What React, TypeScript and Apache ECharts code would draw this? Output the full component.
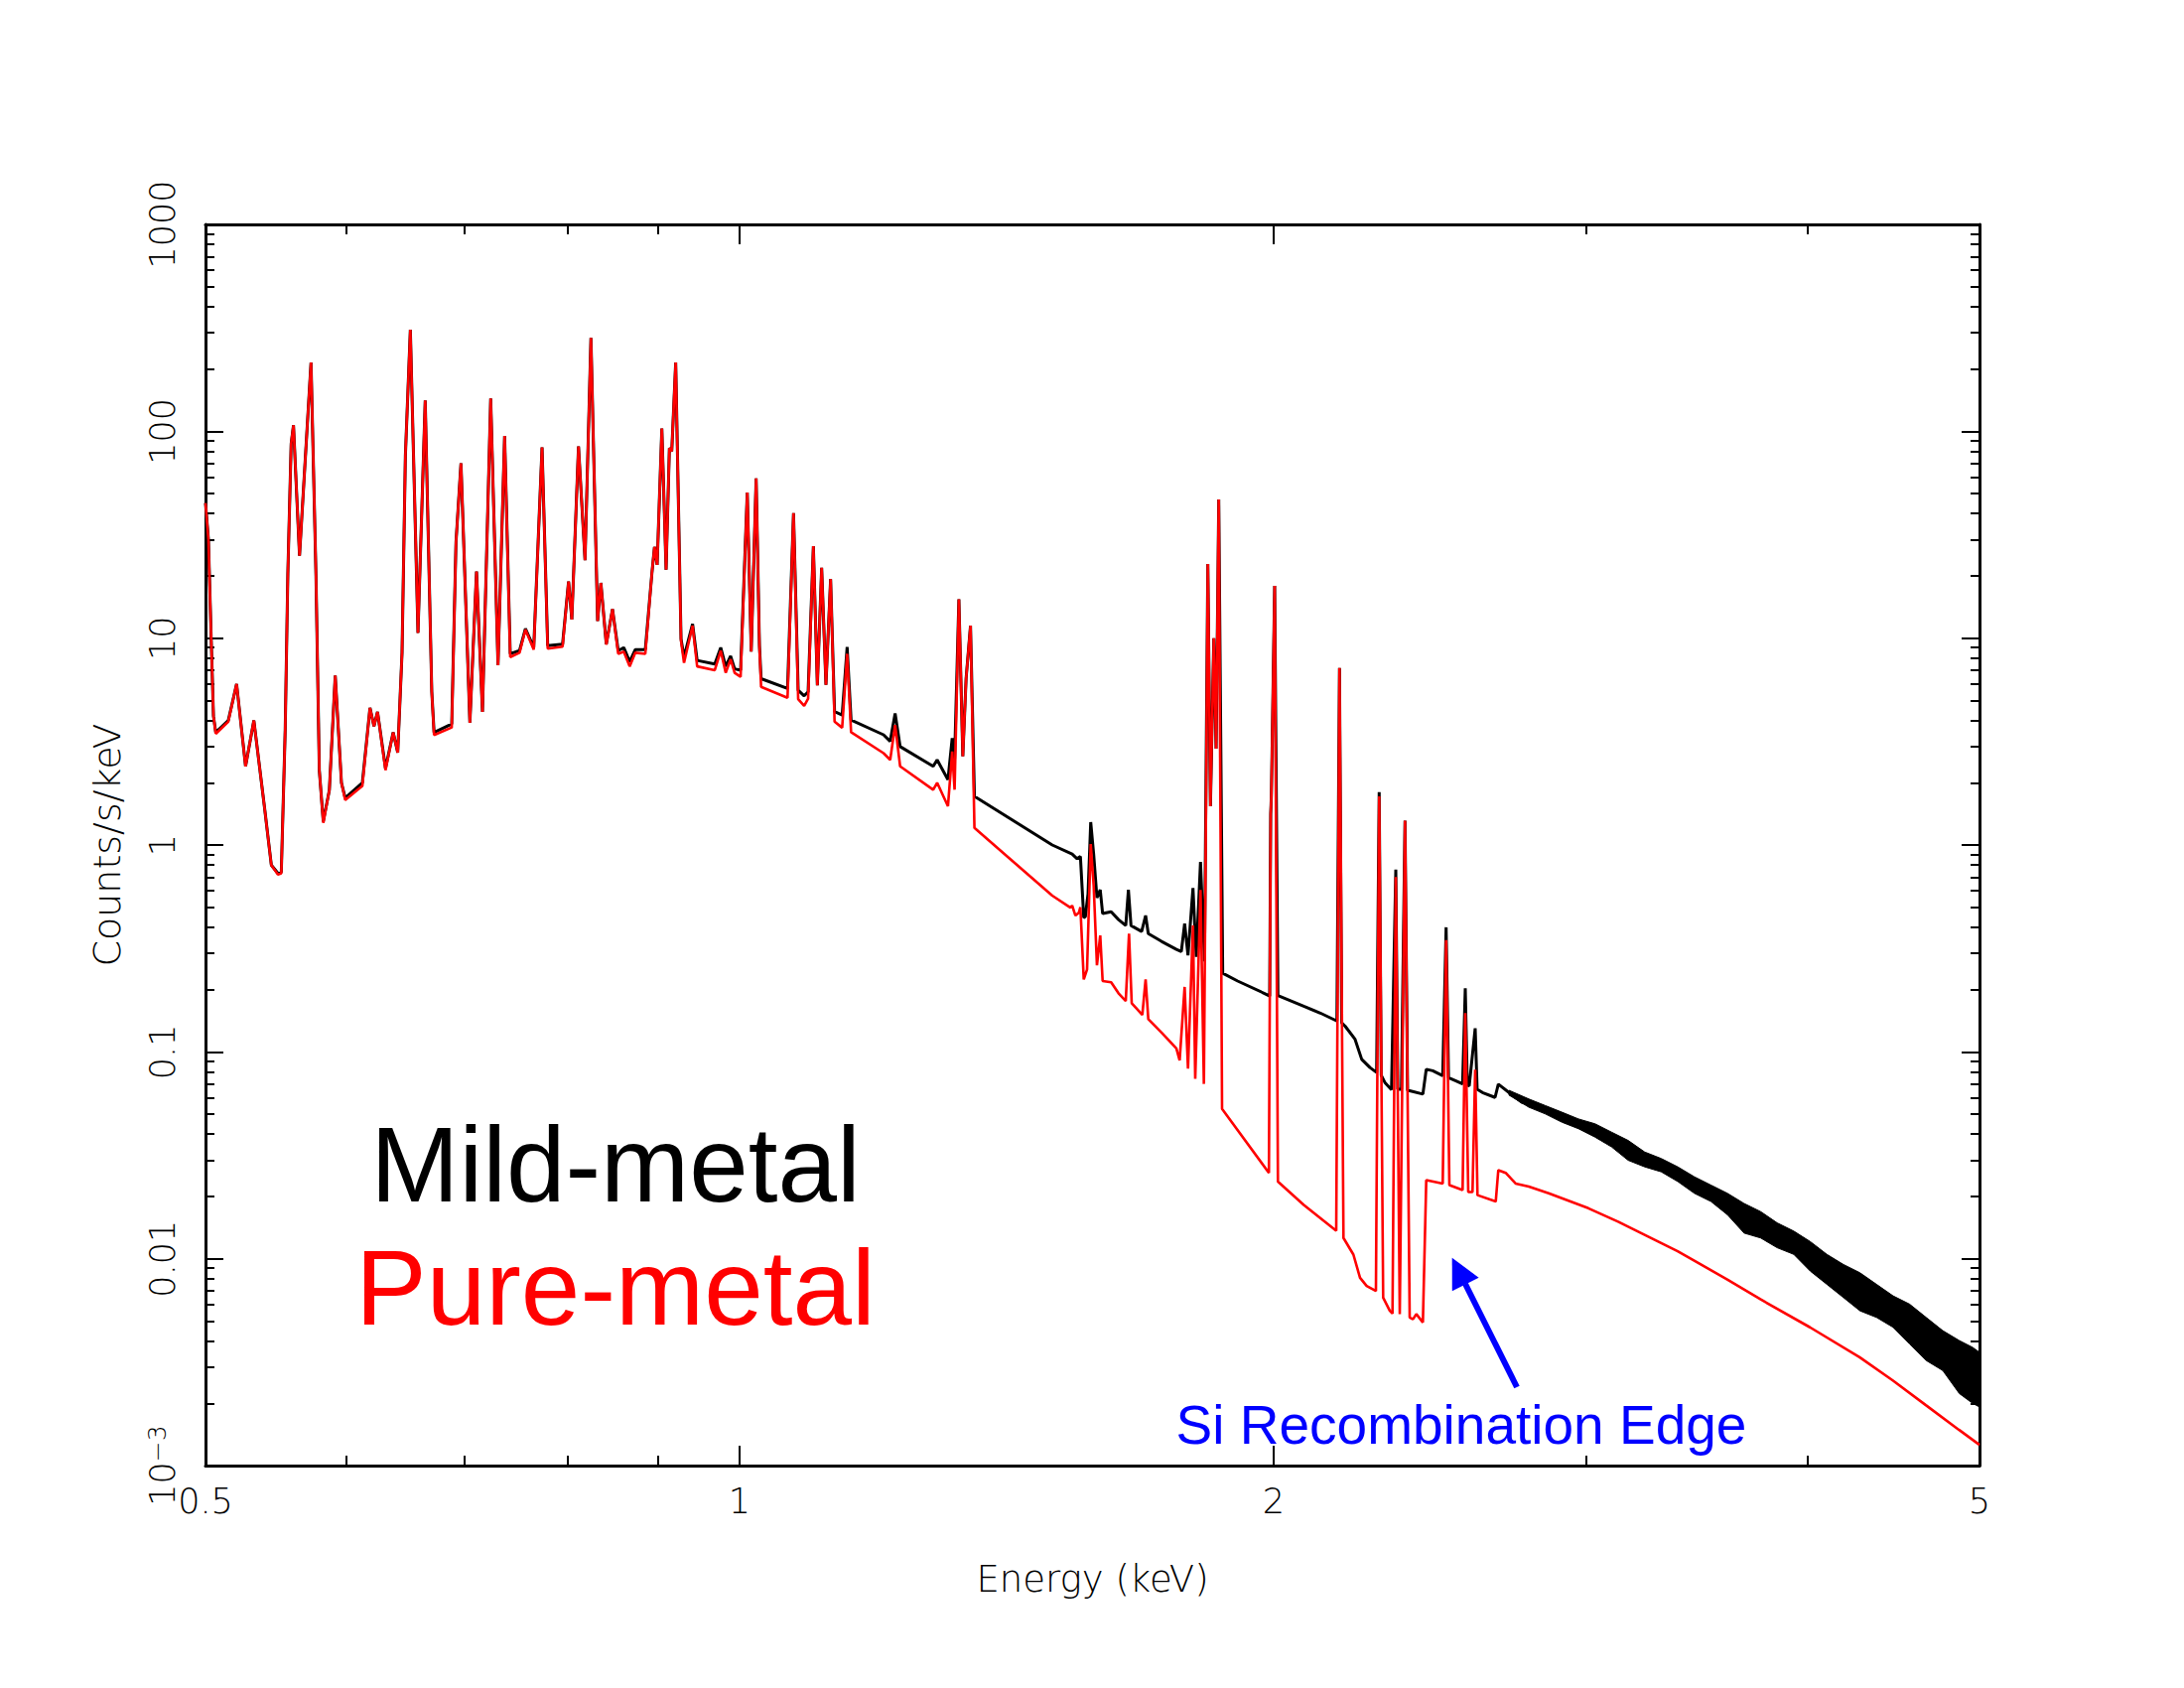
import React, { useEffect, useRef } from "react";
import * as echarts from "echarts";

// ---- Data (energy keV, counts/s/keV) ----
const mildMetal: [number, number][] = [
  [0.5, 45], [0.5019, 30], [0.5037, 10], [0.5052, 4.2], [0.5067, 3.5], [0.515, 4.0], [0.5206, 6.0], [0.5267, 2.4],
  [0.5324, 4.0], [0.54, 1.48], [0.5446, 0.8], [0.5493, 0.73], [0.5517, 0.74], [0.5545, 3.6], [0.5564, 20.5],
  [0.5588, 87], [0.5605, 107], [0.5649, 25], [0.5734, 215], [0.5771, 20], [0.5796, 2.3], [0.5826, 1.3],
  [0.5872, 1.84], [0.5917, 6.6], [0.5965, 2.0], [0.5994, 1.69], [0.6129, 2.0], [0.619, 4.6], [0.6222, 3.75],
  [0.6251, 4.4], [0.6316, 2.35], [0.6379, 3.5], [0.6417, 2.8], [0.6453, 8.5], [0.6481, 76], [0.6523, 310],
  [0.6588, 10.6], [0.665, 141], [0.6707, 5.5], [0.6727, 3.5], [0.6883, 3.85], [0.6921, 29], [0.6966, 70],
  [0.7047, 3.9], [0.7108, 21], [0.7163, 4.4], [0.724, 144], [0.7309, 7.4], [0.7372, 95], [0.7426, 8.4],
  [0.7516, 8.7], [0.7574, 11.1], [0.7656, 9.0], [0.7739, 83.6], [0.7796, 9.2], [0.7948, 9.35], [0.801, 18.8],
  [0.8044, 12.3], [0.8114, 84.5], [0.8183, 23.8], [0.8246, 283], [0.8318, 12.1], [0.8353, 18.5], [0.8412, 9.35],
  [0.848, 13.8], [0.8543, 8.7], [0.8605, 9.0], [0.8671, 7.7], [0.8735, 8.8], [0.8849, 8.8], [0.8925, 20.6],
  [0.8955, 27.6], [0.8986, 22.6], [0.9041, 103], [0.9091, 21.4], [0.913, 83], [0.9158, 80], [0.9205, 215],
  [0.9269, 9.9], [0.9305, 8.1], [0.9409, 11.7], [0.9465, 7.8], [0.9684, 7.5], [0.9759, 9.0], [0.9822, 7.3],
  [0.9885, 8.2], [0.9937, 7.1], [1.0014, 7.0], [1.0101, 50.6], [1.0153, 8.6], [1.0218, 59.2], [1.0262, 9.2],
  [1.0284, 6.37], [1.0643, 5.71], [1.0726, 40.2], [1.0791, 5.6], [1.0875, 5.26], [1.0931, 5.5], [1.1006, 27.8],
  [1.1063, 5.92], [1.1125, 21.9], [1.1187, 5.95], [1.1255, 19.3], [1.1313, 4.41], [1.1425, 4.25], [1.1499, 9.05],
  [1.1558, 4.02], [1.2055, 3.41], [1.216, 3.17], [1.2238, 4.33], [1.2318, 2.99], [1.2858, 2.4], [1.2924, 2.58],
  [1.3107, 2.07], [1.3179, 3.28], [1.322, 2.6], [1.3294, 15.4], [1.3362, 2.68], [1.3419, 6.37], [1.3496, 11.5],
  [1.3565, 1.72], [1.5007, 1.0], [1.5399, 0.904], [1.5499, 0.858], [1.5565, 0.88], [1.5633, 0.446], [1.5665, 0.45],
  [1.572, 0.58], [1.5775, 1.29], [1.5836, 0.9], [1.5903, 0.556], [1.5971, 0.607], [1.6021, 0.466], [1.6199, 0.476],
  [1.6354, 0.436], [1.6509, 0.408], [1.6566, 0.607], [1.6622, 0.408], [1.6853, 0.382], [1.694, 0.456],
  [1.6999, 0.373], [1.7293, 0.342], [1.763, 0.313], [1.7744, 0.305], [1.782, 0.417], [1.7898, 0.293],
  [1.8014, 0.62], [1.809, 0.288], [1.8191, 0.828], [1.8285, 0.274], [1.8365, 22.8], [1.8427, 1.54], [1.8508, 10],
  [1.8563, 2.92], [1.8627, 46.8], [1.8723, 0.24], [1.9089, 0.22], [1.9755, 0.192], [1.99, 0.186], [1.9926, 1.41],
  [1.9944, 1.75], [2.0029, 17.9], [2.0114, 0.187], [2.08, 0.166], [2.1252, 0.154], [2.1714, 0.141], [2.1787, 7.17],
  [2.185, 0.138], [2.1948, 0.133], [2.2232, 0.115], [2.2425, 0.092], [2.2666, 0.084], [2.2863, 0.0795],
  [2.2939, 1.8], [2.3, 0.077], [2.3109, 0.0711], [2.3309, 0.0656], [2.3439, 0.76], [2.35, 0.066], [2.3611, 0.066],
  [2.3721, 1.31], [2.38, 0.065], [2.3865, 0.0649], [2.4278, 0.0625], [2.4384, 0.0824], [2.4592, 0.081],
  [2.4911, 0.0766], [2.5021, 0.4], [2.51, 0.075], [2.5345, 0.0724], [2.5562, 0.07], [2.5651, 0.203], [2.572, 0.069],
  [2.5783, 0.0685], [2.5983, 0.13], [2.605, 0.066], [2.6229, 0.0636], [2.6662, 0.0602], [2.6775, 0.0698],
  [2.7147, 0.0636], [2.7616, 0.057], [2.7856, 0.056], [2.8583, 0.052], [2.9077, 0.0483], [3.0353, 0.0417],
  [3.1684, 0.0334], [3.3073, 0.0278], [3.4527, 0.0227], [3.6041, 0.0189], [3.7621, 0.0151], [3.9276, 0.0117],
  [4.0998, 0.00903], [4.2795, 0.00698], [4.4677, 0.0054], [4.6635, 0.00417], [4.8679, 0.0031], [5.0, 0.00258],
];

const pureMetal: [number, number][] = [
  [0.5, 45], [0.5019, 30], [0.5037, 10], [0.5052, 4.2], [0.5067, 3.45], [0.515, 3.95], [0.5206, 6.0], [0.5267, 2.4],
  [0.5324, 4.0], [0.54, 1.48], [0.5446, 0.8], [0.5493, 0.72], [0.5517, 0.73], [0.5545, 3.6], [0.5564, 20.5],
  [0.5588, 87], [0.5605, 107], [0.5649, 25], [0.5734, 215], [0.5771, 20], [0.5796, 2.3], [0.5826, 1.28],
  [0.5872, 1.84], [0.5917, 6.6], [0.5965, 2.0], [0.5994, 1.65], [0.6129, 1.93], [0.619, 4.6], [0.6222, 3.75],
  [0.6251, 4.4], [0.6316, 2.3], [0.6379, 3.5], [0.6417, 2.8], [0.6453, 8.5], [0.6481, 76], [0.6523, 310],
  [0.6588, 10.6], [0.665, 141], [0.6707, 5.5], [0.6727, 3.4], [0.6883, 3.7], [0.6921, 29], [0.6966, 70],
  [0.7047, 3.9], [0.7108, 21], [0.7163, 4.4], [0.724, 144], [0.7309, 7.4], [0.7372, 95], [0.7426, 8.1],
  [0.7516, 8.5], [0.7574, 11.0], [0.7656, 8.8], [0.7739, 83.6], [0.7796, 8.9], [0.7948, 9.1], [0.801, 18.8],
  [0.8044, 12.3], [0.8114, 84.5], [0.8183, 23.8], [0.8246, 283], [0.8318, 12.1], [0.8353, 18.5], [0.8412, 9.3],
  [0.848, 13.8], [0.8543, 8.4], [0.8605, 8.6], [0.8671, 7.3], [0.8735, 8.5], [0.8849, 8.4], [0.8925, 20.6],
  [0.8955, 27.6], [0.8986, 22.6], [0.9041, 103], [0.9091, 21.4], [0.913, 83], [0.9158, 80], [0.9205, 215],
  [0.9269, 9.7], [0.9305, 7.6], [0.9409, 11.5], [0.9465, 7.3], [0.9684, 7.0], [0.9759, 8.7], [0.9822, 6.8],
  [0.9885, 7.9], [0.9937, 6.8], [1.0014, 6.5], [1.0101, 50.6], [1.0153, 8.6], [1.0218, 59.2], [1.0262, 9.0],
  [1.0284, 5.81], [1.0643, 5.15], [1.0726, 40.2], [1.0791, 5.07], [1.0875, 4.71], [1.0931, 5.1], [1.1006, 27.8],
  [1.1063, 5.92], [1.1125, 21.9], [1.1187, 5.95], [1.1255, 19.3], [1.1313, 3.95], [1.1425, 3.69], [1.1499, 8.4],
  [1.1558, 3.51], [1.2055, 2.78], [1.216, 2.58], [1.2238, 3.8], [1.2318, 2.4], [1.2858, 1.85], [1.2924, 2.0],
  [1.3107, 1.54], [1.3179, 2.83], [1.322, 1.85], [1.3294, 15.4], [1.3362, 2.68], [1.3419, 6.37], [1.3496, 11.5],
  [1.3565, 1.21], [1.5007, 0.569], [1.5366, 0.498], [1.5399, 0.51], [1.5465, 0.456], [1.5533, 0.47], [1.5565, 0.5],
  [1.5633, 0.224], [1.57, 0.25], [1.5775, 1.01], [1.5836, 0.635], [1.5903, 0.262], [1.5971, 0.365], [1.6021, 0.22],
  [1.6199, 0.217], [1.6354, 0.192], [1.6509, 0.176], [1.6579, 0.373], [1.6637, 0.172], [1.6868, 0.151],
  [1.694, 0.224], [1.6999, 0.144], [1.7293, 0.124], [1.763, 0.104], [1.7705, 0.091], [1.782, 0.206], [1.7898, 0.083],
  [1.8014, 0.408], [1.8067, 0.074], [1.8191, 0.607], [1.8271, 0.07], [1.8365, 22.8], [1.8427, 1.54], [1.8508, 10],
  [1.8563, 2.92], [1.8627, 46.8], [1.8707, 0.053], [1.988, 0.026], [1.9926, 1.41], [1.9944, 1.75], [2.0029, 17.9],
  [2.0114, 0.0236], [2.08, 0.0182], [2.1695, 0.01365], [2.1787, 7.17], [2.19, 0.0126], [2.2184, 0.01047],
  [2.2376, 0.00809], [2.257, 0.00738], [2.2842, 0.00698], [2.2939, 1.72], [2.3058, 0.00648], [2.3258, 0.0056],
  [2.3339, 0.00543], [2.3439, 0.7], [2.356, 0.0054], [2.3721, 1.31], [2.3865, 0.0052], [2.3967, 0.0051],
  [2.4072, 0.0054], [2.4278, 0.00492], [2.4384, 0.024], [2.4911, 0.0231], [2.5021, 0.347], [2.5127, 0.0227],
  [2.5562, 0.0215], [2.5651, 0.154], [2.575, 0.021], [2.5893, 0.021], [2.5983, 0.082], [2.6061, 0.0203],
  [2.6686, 0.0189], [2.6775, 0.0268], [2.7032, 0.026], [2.7383, 0.0231], [2.7856, 0.0223], [2.8583, 0.0207],
  [3.0093, 0.01754], [3.1279, 0.0151], [3.3793, 0.01087], [3.6041, 0.00794], [3.7621, 0.00637], [4.0125, 0.00466],
  [4.2795, 0.00334], [4.4677, 0.00258], [4.6635, 0.00196], [4.8679, 0.00149], [5.0, 0.00126],
];

// noise envelope of the mild-metal spectrum at high energy
const bandEnergy = [2.7147, 2.7856, 2.8461, 2.9079, 2.971, 3.0356, 3.1016, 3.169, 3.2378, 3.3081, 3.38, 3.4534,
  3.5285, 3.6051, 3.6835, 3.7635, 3.8453, 3.9288, 4.0142, 4.1014, 4.1905, 4.2815, 4.3746, 4.4696, 4.5667, 4.6659,
  4.7673, 4.8708, 4.9553, 5.0];
const bandLower = [0.0618, 0.054, 0.0501, 0.0457, 0.0425, 0.0387, 0.0347, 0.0299, 0.0278, 0.0263, 0.0236, 0.0207,
  0.0189, 0.0163, 0.0133, 0.0126, 0.0113, 0.0105, 0.00871, 0.00752, 0.00649, 0.0056, 0.0052, 0.00466, 0.00387,
  0.00322, 0.00288, 0.00223, 0.002, 0.00192];
const bandUpper = [0.0652, 0.0592, 0.055, 0.0511, 0.0474, 0.0449, 0.0409, 0.0373, 0.0328, 0.0305, 0.0278, 0.0249,
  0.0227, 0.0207, 0.0185, 0.0169, 0.0149, 0.0136, 0.0121, 0.0105, 0.00938, 0.00855, 0.00752, 0.00661, 0.00603,
  0.0052, 0.00449, 0.00402, 0.00373, 0.00353];

// ---- Axes ----
const xTickLabels = [0.5, 1, 2, 5];
const xMajorTicks = [1, 2];
const xMinorTicks = [0.6, 0.7, 0.8, 0.9, 3, 4];
const yDecades = [0.001, 0.01, 0.1, 1, 10, 100, 1000];
const yDecadeLabels = ["{b|10}{s|\u22123}", "0.01", "0.1", "1", "10", "100", "1000"];
const yMantissas = [2, 3, 4, 5, 6, 7, 8, 9];
const yMinorTicks = yDecades.slice(0, 6).flatMap((d) => yMantissas.map((m) => Number((m * d).toPrecision(3))));

const AXIS_FONT = "'DejaVu Sans', sans-serif";

function yLabel(v: number) {
  const i = yDecades.findIndex((d) => Math.abs(Math.log10(v) - Math.log10(d)) < 1e-6);
  return i >= 0 ? yDecadeLabels[i] : "";
}
function xLabel(v: number) {
  const i = xTickLabels.findIndex((d) => Math.abs(v - d) < 1e-6);
  return i >= 0 ? String(xTickLabels[i]) : "";
}

function xAxisDef(position: string, ticks: number[], len: number, main: boolean, labels: boolean) {
  return {
    type: "log",
    logBase: 10,
    min: 0.5,
    max: 5,
    position,
    gridIndex: 0,
    axisLine: { show: main, lineStyle: { color: "#000", width: 3 } },
    axisTick: { show: true, inside: true, length: len, customValues: ticks, lineStyle: { color: "#000", width: 2 } },
    axisLabel: labels
      ? { show: true, customValues: xTickLabels, formatter: xLabel, color: "#000", fontSize: 35, fontFamily: AXIS_FONT, fontWeight: 200, margin: 18 }
      : { show: false },
    splitLine: { show: false },
    minorTick: { show: false },
  } as any;
}

function yAxisDef(position: string, ticks: number[], len: number, main: boolean, labels: boolean) {
  return {
    type: "log",
    logBase: 10,
    min: 0.001,
    max: 1000,
    position,
    gridIndex: 0,
    axisLine: { show: main, lineStyle: { color: "#000", width: 3 } },
    axisTick: { show: true, inside: true, length: len, customValues: ticks, lineStyle: { color: "#000", width: 2 } },
    axisLabel: labels
      ? {
          show: true,
          customValues: yDecades,
          formatter: yLabel,
          rotate: 90,
          color: "#000",
          fontSize: 35,
          fontFamily: AXIS_FONT,
          fontWeight: 200,
          margin: 26,
          rich: {
            b: { fontSize: 35, fontFamily: AXIS_FONT, fontWeight: 200, color: "#000" },
            s: { fontSize: 25, fontFamily: AXIS_FONT, fontWeight: 200, color: "#000", verticalAlign: "top" },
          },
        }
      : { show: false },
    splitLine: { show: false },
    minorTick: { show: false },
  } as any;
}

export default function App() {
  const ref = useRef<HTMLDivElement>(null);
  useEffect(() => {
    document.body.style.margin = "0";
    const chart = echarts.init(ref.current!, null, { renderer: "svg" });
    const xMain = xAxisDef("bottom", xMajorTicks, 20, true, true);
    xMain.name = "Energy (keV)";
    xMain.nameLocation = "middle";
    xMain.nameGap = 96;
    xMain.nameTextStyle = { fontSize: 37, fontFamily: AXIS_FONT, fontWeight: 200, color: "#000" };
    const yMain = yAxisDef("left", yDecades, 18, true, true);
    yMain.name = "Counts/s/keV";
    yMain.nameLocation = "middle";
    yMain.nameGap = 80;
    yMain.nameRotate = 90;
    yMain.nameTextStyle = { fontSize: 38, fontFamily: AXIS_FONT, fontWeight: 200, color: "#000" };

    chart.setOption({
      animation: false,
      backgroundColor: "#fff",
      grid: { left: 207, top: 226, width: 1787, height: 1250, containLabel: false, outerBoundsMode: "none" },
      xAxis: [
        xMain,
        xAxisDef("bottom", xMinorTicks, 10, false, false),
        xAxisDef("top", xMajorTicks, 20, true, false),
        xAxisDef("top", xMinorTicks, 10, false, false),
      ],
      yAxis: [
        yMain,
        yAxisDef("left", yMinorTicks, 9, false, false),
        yAxisDef("right", yDecades, 18, true, false),
        yAxisDef("right", yMinorTicks, 9, false, false),
      ],
      series: [
        {
          type: "custom",
          name: "Mild-metal noise",
          xAxisIndex: 0,
          yAxisIndex: 0,
          clip: true,
          silent: true,
          data: [[bandEnergy[0], bandLower[0]]],
          renderItem: (_params: any, api: any) => {
            const up = bandEnergy.map((e, i) => api.coord([e, bandUpper[i]]));
            const lo = bandEnergy.map((e, i) => api.coord([e, bandLower[i]])).reverse();
            return { type: "polygon", shape: { points: up.concat(lo) }, style: { fill: "#000", stroke: "#000", lineWidth: 1 } };
          },
          z: 2,
        },
        {
          type: "line",
          name: "Mild-metal",
          xAxisIndex: 0,
          yAxisIndex: 0,
          data: mildMetal,
          showSymbol: false,
          symbol: "none",
          clip: true,
          lineStyle: { color: "#000", width: 3 },
          z: 3,
        },
        {
          type: "line",
          name: "Pure-metal",
          xAxisIndex: 0,
          yAxisIndex: 0,
          data: pureMetal,
          showSymbol: false,
          symbol: "none",
          clip: true,
          lineStyle: { color: "#ff0000", width: 2.6 },
          z: 4,
        },
      ],
      graphic: [
        {
          type: "text",
          x: 620,
          y: 1173,
          z: 10,
          style: { text: "Mild-metal", fontSize: 107, fontFamily: "'Liberation Sans', Arial, sans-serif", fill: "#000", align: "center", verticalAlign: "middle", textAlign: "center", textVerticalAlign: "middle" },
        },
        {
          type: "text",
          x: 620,
          y: 1297,
          z: 10,
          style: { text: "Pure-metal", fontSize: 107, fontFamily: "'Liberation Sans', Arial, sans-serif", fill: "#ff0000", align: "center", verticalAlign: "middle", textAlign: "center", textVerticalAlign: "middle" },
        },
        {
          type: "text",
          x: 1472,
          y: 1435,
          z: 10,
          style: { text: "Si Recombination Edge", fontSize: 55, fontFamily: "'Liberation Sans', Arial, sans-serif", fill: "#0000ff", align: "center", verticalAlign: "middle", textAlign: "center", textVerticalAlign: "middle" },
        },
        {
          type: "line",
          z: 10,
          shape: { x1: 1528, y1: 1397, x2: 1476, y2: 1293 },
          style: { stroke: "#0000ff", lineWidth: 6 },
        },
        {
          type: "polygon",
          z: 10,
          shape: { points: [[1462.7, 1266.7], [1462.8, 1300.2], [1489.6, 1286.8]] },
          style: { fill: "#0000ff" },
        },
      ],
    });
    return () => chart.dispose();
  }, []);
  return <div ref={ref} style={{ width: 2200, height: 1700 }} />;
}
